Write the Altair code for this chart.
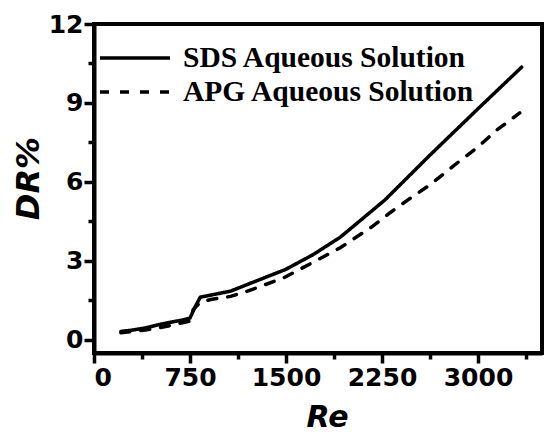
import altair as alt
import pandas as pd

# Drag reduction vs Reynolds number for two surfactant solutions
sds_re = [210, 300, 400, 500, 600, 700, 750, 790, 830, 1067, 1223, 1495, 1713, 1924, 2274, 2625, 3000, 3341]
sds_dr = [0.32, 0.37, 0.45, 0.57, 0.67, 0.76, 0.83, 1.25, 1.62, 1.85, 2.15, 2.67, 3.24, 3.9, 5.32, 7.02, 8.78, 10.36]

apg_re = [210, 300, 400, 500, 600, 700, 750, 775, 830, 911, 1067, 1199, 1480, 1752, 1924, 2173, 2313, 2453, 2625, 2858, 3000, 3146, 3326]
apg_dr = [0.27, 0.32, 0.37, 0.45, 0.55, 0.66, 0.72, 1.15, 1.42, 1.53, 1.65, 1.85, 2.35, 3.05, 3.5, 4.3, 4.83, 5.32, 5.89, 6.8, 7.33, 7.97, 8.62]

series = ["SDS Aqueous Solution", "APG Aqueous Solution"]

# major ticks carry labels, the in-between ones are short minor ticks
x_ticks = [0, 375, 750, 1125, 1500, 1875, 2250, 2625, 3000, 3375]
y_ticks = [0, 1.5, 3, 4.5, 6, 7.5, 9, 10.5, 12]

df = pd.concat([
    pd.DataFrame({"Re": sds_re, "DR": sds_dr, "series": series[0]}),
    pd.DataFrame({"Re": apg_re, "DR": apg_dr, "series": series[1]}),
])

sans = "DejaVu Sans"

# full ticks by default; minor ticks only show the first few pixels of a dash
minor_x = {"condition": {"test": "datum.value % 750 !== 0", "value": [6, 30]}, "value": [1, 0]}
minor_y = {"condition": {"test": "datum.value % 3 !== 0", "value": [6, 30]}, "value": [1, 0]}

chart = alt.Chart(df).mark_line(color="black", strokeWidth=3.5, strokeCap="round").encode(
    x=alt.X("Re:Q",
            scale=alt.Scale(domain=[0, 3500], nice=False, zero=False),
            axis=alt.Axis(
                values=x_ticks, format="d",
                labelExpr="datum.value % 750 === 0 ? datum.label : ''",
                tickSize=10, tickWidth=3.5, tickColor="black", tickDash=minor_x,
                title="Re", titleFontStyle="italic", titleFontSize=30, titlePadding=12,
                titleX=233,
                labelPadding=2,
            )),
    y=alt.Y("DR:Q",
            scale=alt.Scale(domain=[-0.5, 12], nice=False, zero=False),
            axis=alt.Axis(
                values=y_ticks, format="d",
                labelExpr="datum.value % 3 === 0 ? datum.label : ''",
                tickSize=10, tickWidth=3.5, tickColor="black", tickDash=minor_y,
                title="DR%", titleFontStyle="italic", titleFontSize=32, titlePadding=3,
                titleY=154,
                labelPadding=1,
            )),
    strokeDash=alt.StrokeDash("series:N",
                              scale=alt.Scale(domain=series, range=[[1, 0], [9, 11]]),
                              legend=alt.Legend(
                                  title=None, orient="none", legendX=4, legendY=17,
                                  symbolType="stroke", symbolSize=4900,
                                  symbolStrokeColor="black", symbolStrokeWidth=3.5,
                                  labelFont="Liberation Serif", labelFontWeight="bold",
                                  labelFontSize=29.5, labelColor="black",
                                  labelOffset=11, clipHeight=34, rowPadding=-3,
                                  padding=0, labelLimit=400,
                              )),
).properties(
    width=448, height=329,
    autosize=alt.AutoSizeParams(type="none"),
    padding={"left": 94, "top": 24, "right": 2, "bottom": 80},
).configure_view(
    stroke="black", strokeWidth=4,
).configure_axis(
    domainColor="black", domainWidth=4,
    labelFont=sans, labelFontWeight="bold", labelFontSize=25, labelColor="black",
    titleFont=sans, titleFontWeight="bold", titleColor="black",
    gridOpacity=0,
)

chart.save("out.html", embed_options={"renderer": "svg", "actions": False})
